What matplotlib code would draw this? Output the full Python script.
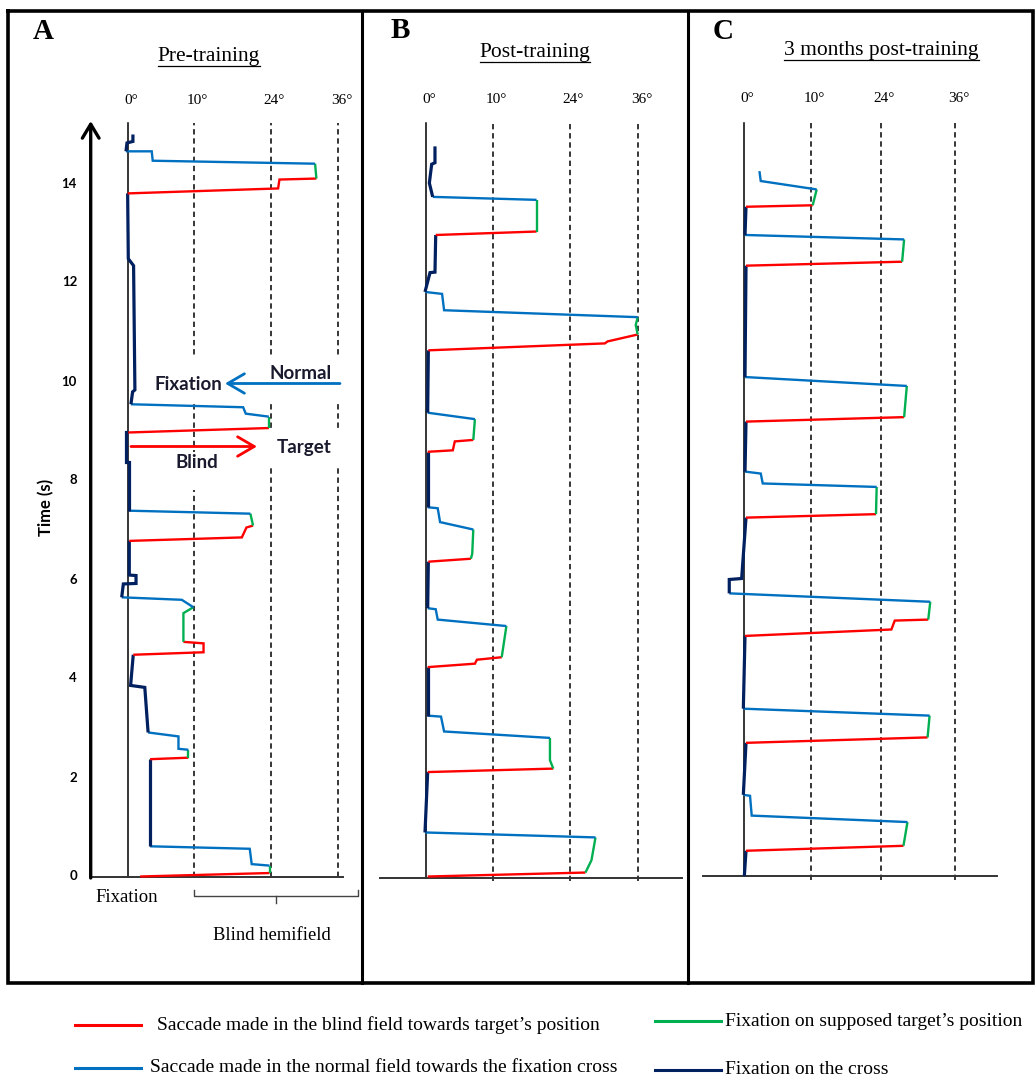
import matplotlib
matplotlib.use('Agg')
import matplotlib.pyplot as plt
from matplotlib.patches import Rectangle

# colours of the original figure
RED = '#ff0000'
GREEN = '#00b050'
BLUE = '#0070c0'
NAVY = '#002060'
KIND_COLOR = {'red': RED, 'green': GREEN, 'blue': BLUE, 'navy': NAVY}

SERIF = ['Liberation Serif', 'DejaVu Serif']
SANS_BOLD = ['Lato', 'DejaVu Sans']

W, H = 1036, 1080
PX_PER_S = 49.5

# ---- data: x in display units (10 deg line = 10), t in seconds ----
deg_labels = ['0°', '10°', '24°', '36°']
deg_pos_a = [0, 10, 21.6, 31.8]
deg_pos_b = [0, 10, 21.5, 31.7]
deg_pos_c = [0, 10, 20.4, 31.5]
time_ticks = [0, 2, 4, 6, 8, 10, 12, 14]

panel_titles = ['Pre-training', 'Post-training', '3 months post-training']
panel_letters = ['A', 'B', 'C']

legend_labels = [
    'Saccade made in the blind field towards target\u2019s position',
    'Fixation on supposed target\u2019s position',
    'Saccade made in the normal field towards the fixation cross',
    'Fixation on the cross',
]
legend_kinds = ['red', 'green', 'blue', 'navy']

# eye trace, chronological (bottom to top): (kind, x values, t values)
trace_a = [
    ('red',   [1.8, 21.4], [0.0, 0.07]),
    ('green', [21.4, 21.4], [0.07, 0.22]),
    ('blue',  [21.4, 18.7, 18.4, 3.3], [0.22, 0.25, 0.56, 0.61]),
    ('navy',  [3.3, 3.3], [0.61, 2.37]),
    ('red',   [3.3, 9.1], [2.37, 2.40]),
    ('green', [9.1, 9.1], [2.40, 2.56]),
    ('blue',  [9.1, 7.6, 7.6, 3.0], [2.56, 2.58, 2.83, 2.91]),
    ('navy',  [3.0, 2.5, 0.35, 0.75], [2.91, 3.82, 3.86, 4.48]),
    ('red',   [0.75, 11.4, 11.4, 8.35], [4.48, 4.53, 4.71, 4.74]),
    ('green', [8.35, 8.35, 9.85], [4.74, 5.32, 5.44]),
    ('blue',  [9.85, 8.1, -1.0], [5.44, 5.59, 5.64]),
    ('navy',  [-1.0, -0.75, 1.17, 1.17, 0.15, 0.15], [5.64, 5.91, 5.92, 6.08, 6.09, 6.78]),
    ('red',   [0.15, 17.2, 17.9, 18.9], [6.78, 6.85, 7.05, 7.09]),
    ('green', [18.9, 18.5], [7.09, 7.33]),
    ('blue',  [18.5, 0.15], [7.33, 7.39]),
    ('navy',  [0.15, 0.15, -0.35, -0.35, 0.0], [7.39, 8.37, 8.37, 8.97, 8.97]),
    ('red',   [0.0, 21.3], [8.97, 9.06]),
    ('green', [21.3, 21.3], [9.06, 9.29]),
    ('blue',  [21.3, 17.8, 17.4, 0.4], [9.29, 9.35, 9.48, 9.54]),
    ('navy',  [0.4, 0.65, 1.0, 0.8, 0.0, -0.1], [9.54, 9.79, 9.83, 12.34, 12.48, 13.80]),
    ('red',   [-0.1, 22.7, 22.9, 28.5], [13.80, 13.90, 14.08, 14.10]),
    ('green', [28.5, 28.3], [14.10, 14.40]),
    ('blue',  [28.3, 3.7, 3.55, -0.35], [14.40, 14.46, 14.65, 14.65]),
    ('navy',  [-0.35, -0.2, 0.7, 0.7], [14.65, 14.82, 14.85, 14.99]),
]

trace_b = [
    ('red',   [0.25, 23.8], [0.03, 0.11]),
    ('green', [23.8, 24.7, 25.3], [0.11, 0.36, 0.82]),
    ('blue',  [25.3, -0.15], [0.82, 0.92]),
    ('navy',  [-0.15, 0.25], [0.92, 2.14]),
    ('red',   [0.25, 19.0], [2.14, 2.21]),
    ('green', [19.0, 18.5, 18.5], [2.21, 2.38, 2.83]),
    ('blue',  [18.5, 2.7, 2.24, 0.25], [2.83, 2.96, 3.26, 3.28]),
    ('navy',  [0.25, 0.25], [3.28, 4.26]),
    ('red',   [0.25, 7.3, 7.6, 11.3], [4.26, 4.33, 4.41, 4.46]),
    ('green', [11.3, 12.0], [4.46, 5.09]),
    ('blue',  [12.0, 1.75, 1.45, 0.25], [5.09, 5.22, 5.43, 5.45]),
    ('navy',  [0.25, 0.35], [5.45, 6.39]),
    ('red',   [0.35, 6.7], [6.39, 6.45]),
    ('green', [6.7, 6.9, 7.06], [6.45, 6.55, 7.04]),
    ('blue',  [7.06, 2.1, 1.75, 0.25], [7.04, 7.19, 7.47, 7.49]),
    ('navy',  [0.25, 0.25], [7.49, 8.61]),
    ('red',   [0.25, 4.0, 4.3, 7.06], [8.61, 8.64, 8.82, 8.85]),
    ('green', [7.06, 7.3], [8.85, 9.27]),
    ('blue',  [7.3, 0.25], [9.27, 9.40]),
    ('navy',  [0.25, 0.35], [9.40, 10.66]),
    ('red',   [0.35, 26.7, 27.1, 31.6], [10.66, 10.80, 10.84, 10.98]),
    ('green', [31.6, 31.3, 31.6], [10.98, 11.17, 11.33]),
    ('blue',  [31.6, 2.7, 2.4, -0.15], [11.33, 11.47, 11.80, 11.84]),
    ('navy',  [-0.15, 0.6, 1.34, 1.45], [11.84, 12.23, 12.24, 12.99]),
    ('red',   [1.45, 16.5], [12.99, 13.06]),
    ('green', [16.5, 16.5], [13.06, 13.70]),
    ('blue',  [16.5, 1.0], [13.70, 13.76]),
    ('navy',  [1.0, 0.5, 0.85, 1.34, 1.34], [13.76, 14.04, 14.42, 14.45, 14.78]),
]

trace_c = [
    ('navy',  [0.05, 0.3], [0.0, 0.51]),
    ('red',   [0.3, 23.8], [0.51, 0.61]),
    ('green', [23.8, 24.4], [0.61, 1.09]),
    ('blue',  [24.4, 1.15, 0.9, -0.1], [1.09, 1.22, 1.62, 1.64]),
    ('navy',  [-0.1, 0.3], [1.64, 2.69]),
    ('red',   [0.3, 27.4], [2.69, 2.80]),
    ('green', [27.4, 27.7], [2.80, 3.24]),
    ('blue',  [27.7, -0.1], [3.24, 3.38]),
    ('navy',  [-0.1, 0.15], [3.38, 4.85]),
    ('red',   [0.15, 22.0, 22.5, 27.5], [4.85, 4.98, 5.16, 5.18]),
    ('green', [27.5, 27.8], [5.18, 5.54]),
    ('blue',  [27.8, -2.2], [5.54, 5.71]),
    ('navy',  [-2.2, -2.2, -0.35, 0.3], [5.71, 5.99, 6.01, 7.24]),
    ('red',   [0.3, 19.7], [7.24, 7.31]),
    ('green', [19.7, 19.8], [7.31, 7.86]),
    ('blue',  [19.8, 2.8, 2.5, 0.15], [7.86, 7.93, 8.13, 8.17]),
    ('navy',  [0.15, 0.3], [8.17, 9.18]),
    ('red',   [0.3, 23.9], [9.18, 9.27]),
    ('green', [23.9, 24.3], [9.27, 9.90]),
    ('blue',  [24.3, 0.15], [9.90, 10.08]),
    ('navy',  [0.15, 0.3], [10.08, 12.33]),
    ('red',   [0.3, 23.6], [12.33, 12.41]),
    ('green', [23.6, 23.9], [12.41, 12.86]),
    ('blue',  [23.9, 0.15], [12.86, 12.95]),
    ('navy',  [0.15, 0.3], [12.95, 13.52]),
    ('red',   [0.3, 10.25], [13.52, 13.55]),
    ('green', [10.25, 10.85], [13.55, 13.87]),
    ('blue',  [10.85, 2.5, 2.3], [13.87, 14.04, 14.24]),
]

# ---- layout (pixels of the 1036x1080 canvas) ----
PANELS = [
    dict(left=20, right=358, zero=128.3, scale=6.6, t0=876.5, top=123, base=(90.7, 343), dash_bot=876.5),
    dict(left=366, right=684, zero=426, scale=6.7, t0=878, top=123, base=(380, 682), dash_bot=881),
    dict(left=692, right=1030, zero=744, scale=6.7, t0=876, top=123, base=(703, 997), dash_bot=880),
]
AX_TOP, AX_BOT = 90, 910

fig = plt.figure(figsize=(W / 100, H / 100), dpi=100)
fig.patch.set_facecolor('white')

bg = fig.add_axes([0, 0, 1, 1])
bg.set_xlim(0, W)
bg.set_ylim(H, 0)
bg.axis('off')

# frame around the three panels
bg.plot([8, 1033, 1033, 8, 8], [11, 11, 983, 983, 11], color='black', lw=2.6,
        solid_joinstyle='miter')
for xd in (362, 688):
    bg.plot([xd, xd], [11, 983], color='black', lw=2.2)


def make_panel(p):
    ax = fig.add_axes([p['left'] / W, 1 - AX_BOT / H,
                       (p['right'] - p['left']) / W, (AX_BOT - AX_TOP) / H])
    ax.set_xlim((p['left'] - p['zero']) / p['scale'], (p['right'] - p['zero']) / p['scale'])
    ax.set_ylim((p['t0'] - AX_BOT) / PX_PER_S, (p['t0'] - AX_TOP) / PX_PER_S)
    ax.axis('off')
    ax.patch.set_alpha(0)
    return ax


def px_to_data(p, xpx, ypx):
    return (xpx - p['zero']) / p['scale'], (p['t0'] - ypx) / PX_PER_S


axes = [make_panel(p) for p in PANELS]
deg_positions = [deg_pos_a, deg_pos_b, deg_pos_c]
traces = [trace_a, trace_b, trace_c]
label_y = [100, 100, 98]

for ax, p, grid, trace, ly in zip(axes, PANELS, deg_positions, traces, label_y):
    t_top = (p['t0'] - p['top']) / PX_PER_S
    t_dash_bot = (p['t0'] - p['dash_bot']) / PX_PER_S
    # dashed reference lines
    for g in grid[1:]:
        ax.plot([g, g], [t_dash_bot, t_top], color='black', lw=1.1,
                linestyle=(0, (3.5, 2.5)), zorder=1, clip_on=False)
    # 0 deg line
    ax.plot([0, 0], [0, t_top], color='black', lw=1.1, zorder=1, clip_on=False)
    # baseline
    x0, _ = px_to_data(p, p['base'][0], 0)
    x1, _ = px_to_data(p, p['base'][1], 0)
    ax.plot([x0, x1], [0, 0], color='#333333', lw=1.4, zorder=1, clip_on=False)
    # degree labels
    _, t_lab = px_to_data(p, 0, ly)
    for g, lab in zip(grid, deg_labels):
        ax.text(g + 0.5, t_lab, lab, ha='center', va='center', fontsize=11,
                family=SERIF, clip_on=False)
    # eye trace
    for kind, xs, ts in trace:
        lw = 2.3 if kind == 'navy' else 1.7
        ax.plot(xs, ts, color=KIND_COLOR[kind], lw=lw, zorder=4,
                solid_joinstyle='miter', solid_capstyle='butt', clip_on=False)

# ---- panel A extras ----
pa = PANELS[0]
axa = axes[0]
xa, _ = px_to_data(pa, 90.7, 0)
_, t_arrow_top = px_to_data(pa, 0, 121)
axa.annotate('', xy=(xa, t_arrow_top), xytext=(xa, -0.03),
             arrowprops=dict(arrowstyle='->,head_length=0.5,head_width=0.3',
                             lw=2.4, color='black', mutation_scale=20,
                             shrinkA=0, shrinkB=0), zorder=2)
xt, _ = px_to_data(pa, 77, 0)
for tt in time_ticks:
    axa.text(xt, tt, str(tt), ha='right', va='center', fontsize=9.5,
             fontweight='bold', family=SANS_BOLD)
xl, tl = px_to_data(pa, 46, 507)
axa.text(xl, tl, 'Time (s)', rotation=90, ha='center', va='center',
         fontsize=12, fontweight='bold', family=SANS_BOLD)

# white text boxes that cut the dashed lines
for (bx0, by0, bx1, by1) in [(150, 356, 352, 402), (255, 430, 352, 468), (150, 452, 245, 490)]:
    dx0, dt1 = px_to_data(pa, bx0, by0)
    dx1, dt0 = px_to_data(pa, bx1, by1)
    axa.add_patch(Rectangle((dx0, dt0), dx1 - dx0, dt1 - dt0, facecolor='white',
                            edgecolor='none', zorder=3, clip_on=False))

for txt, cx, cy in [('Normal', 301, 374), ('Fixation', 188.5, 384),
                    ('Target', 304, 447), ('Blind', 197, 463)]:
    dx, dt = px_to_data(pa, cx, cy)
    axa.text(dx, dt, txt, ha='center', va='center', fontsize=13.5,
             fontweight='bold', family=SANS_BOLD, color='#1a1a2e', zorder=5)

bx0, bt = px_to_data(pa, 340, 383.5)
bx1, _ = px_to_data(pa, 225, 383.5)
axa.annotate('', xy=(bx1, bt), xytext=(bx0, bt),
             arrowprops=dict(arrowstyle='->,head_length=0.6,head_width=0.35',
                             lw=2, color=BLUE, mutation_scale=20,
                             shrinkA=0, shrinkB=0), zorder=5)
rx0, rt = px_to_data(pa, 131, 446.5)
rx1, _ = px_to_data(pa, 257, 446.5)
axa.annotate('', xy=(rx1, rt), xytext=(rx0, rt),
             arrowprops=dict(arrowstyle='->,head_length=0.6,head_width=0.35',
                             lw=2, color=RED, mutation_scale=20,
                             shrinkA=0, shrinkB=0), zorder=5)

# labels under panel A
bg.text(127, 897, 'Fixation', ha='center', va='center', fontsize=13.5, family=SERIF)
bg.plot([194, 194, 358, 358], [890, 896, 896, 890], color='#444444', lw=1)
bg.plot([276, 276], [896, 903], color='#444444', lw=1)
bg.text(272, 936, 'Blind hemifield', ha='center', va='center', fontsize=13.4, family=SERIF)

# ---- letters and titles ----
for lett, (lx, ly) in zip(panel_letters, [(43, 31.5), (400, 31), (723.5, 31.5)]):
    bg.text(lx, ly, lett, ha='center', va='center', fontsize=21, fontweight='bold',
            family=SERIF)

title_texts = []
for title, (tx, ty) in zip(panel_titles, [(209, 57), (535, 53), (881.5, 51)]):
    title_texts.append(bg.text(tx, ty, title, ha='center', va='center', fontsize=15.5,
                               family=SERIF))

# ---- legend ----
leg_rows = [(75, 141, 1025, 157), (655, 721, 1021, 725), (75, 141, 1068, 150), (655, 721, 1070, 725)]
for lab, kind, (lx0, lx1, ly, tx) in zip(legend_labels, legend_kinds, leg_rows):
    bg.plot([lx0, lx1], [ly, ly], color=KIND_COLOR[kind], lw=2.2)
    bg.text(tx, ly, lab, ha='left', va='center', fontsize=14, family=SERIF)

# underline the panel titles
fig.canvas.draw()
renderer = fig.canvas.get_renderer()
inv = bg.transData.inverted()
for t in title_texts:
    bb = t.get_window_extent(renderer)
    (ux0, uy), (ux1, _) = inv.transform([(bb.x0, bb.y0), (bb.x1, bb.y0)])
    bg.plot([ux0, ux1], [uy - 1, uy - 1], color='black', lw=0.9)

fig.savefig('out.png', dpi=100, facecolor='white')
